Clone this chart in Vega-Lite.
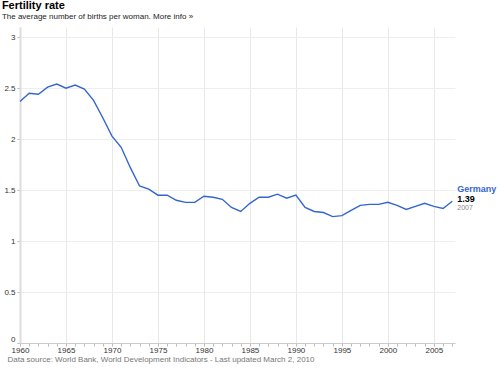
{
  "$schema": "https://vega.github.io/schema/vega-lite/v6.json",
  "autosize": "none",
  "width": 435,
  "height": 316,
  "padding": {"left": 20, "top": 27, "right": 45, "bottom": 26},
  "background": "white",
  "title": {
    "text": "Fertility rate",
    "subtitle": "The average number of births per woman. More info »",
    "anchor": "start",
    "dx": -2,
    "offset": 6,
    "font": "Liberation Sans",
    "fontSize": 11,
    "fontWeight": "bold",
    "color": "#000",
    "subtitleFont": "Liberation Sans",
    "subtitleFontSize": 8,
    "subtitleColor": "#222",
    "subtitlePadding": 2
  },
  "config": {
    "view": {"stroke": null},
    "font": "Liberation Sans"
  },
  "data": {
    "values": [
      {"year": 1960, "rate": 2.37}, {"year": 1961, "rate": 2.45}, {"year": 1962, "rate": 2.44},
      {"year": 1963, "rate": 2.51}, {"year": 1964, "rate": 2.54}, {"year": 1965, "rate": 2.5},
      {"year": 1966, "rate": 2.53}, {"year": 1967, "rate": 2.49}, {"year": 1968, "rate": 2.38},
      {"year": 1969, "rate": 2.21}, {"year": 1970, "rate": 2.03}, {"year": 1971, "rate": 1.92},
      {"year": 1972, "rate": 1.72}, {"year": 1973, "rate": 1.54}, {"year": 1974, "rate": 1.51},
      {"year": 1975, "rate": 1.45}, {"year": 1976, "rate": 1.45}, {"year": 1977, "rate": 1.4},
      {"year": 1978, "rate": 1.38}, {"year": 1979, "rate": 1.38}, {"year": 1980, "rate": 1.44},
      {"year": 1981, "rate": 1.43}, {"year": 1982, "rate": 1.41}, {"year": 1983, "rate": 1.33},
      {"year": 1984, "rate": 1.29}, {"year": 1985, "rate": 1.37}, {"year": 1986, "rate": 1.43},
      {"year": 1987, "rate": 1.43}, {"year": 1988, "rate": 1.46}, {"year": 1989, "rate": 1.42},
      {"year": 1990, "rate": 1.45}, {"year": 1991, "rate": 1.33}, {"year": 1992, "rate": 1.29},
      {"year": 1993, "rate": 1.28}, {"year": 1994, "rate": 1.24}, {"year": 1995, "rate": 1.25},
      {"year": 1996, "rate": 1.3}, {"year": 1997, "rate": 1.35}, {"year": 1998, "rate": 1.36},
      {"year": 1999, "rate": 1.36}, {"year": 2000, "rate": 1.38}, {"year": 2001, "rate": 1.35},
      {"year": 2002, "rate": 1.31}, {"year": 2003, "rate": 1.34}, {"year": 2004, "rate": 1.37},
      {"year": 2005, "rate": 1.34}, {"year": 2006, "rate": 1.32}, {"year": 2007, "rate": 1.39, "country": "Germany"}
    ]
  },
  "encoding": {
    "x": {
      "field": "year",
      "type": "quantitative",
      "scale": {"domain": [1960, 2007.3], "nice": false, "zero": false},
      "axis": {
        "values": [1960,1961,1962,1963,1964,1965,1966,1967,1968,1969,1970,1971,1972,1973,1974,1975,1976,1977,1978,1979,1980,1981,1982,1983,1984,1985,1986,1987,1988,1989,1990,1991,1992,1993,1994,1995,1996,1997,1998,1999,2000,2001,2002,2003,2004,2005,2006,2007],
        "labelExpr": "datum.value % 5 === 0 ? datum.value : ''",
        "format": "d",
        "grid": true,
        "gridColor": "#e8e8e8",
        "gridOpacity": {"condition": {"test": "datum.value % 5 === 0", "value": 1}, "value": 0},
        "tickSize": 3,
        "tickColor": "#bbb",
        "domainColor": "#ccc",
        "labelFontSize": 8,
        "labelColor": "#333",
        "labelPadding": 0,
        "labelFlush": false,
        "title": "Data source: World Bank, World Development Indicators - Last updated March 2, 2010",
        "titleAnchor": "start",
        "titleAlign": "left",
        "titleX": -13,
        "titleY": 12,
        "titleBaseline": "top",
        "titleFontSize": 8,
        "titleFontWeight": "normal",
        "titleColor": "#777"
      }
    },
    "y": {
      "field": "rate",
      "type": "quantitative",
      "scale": {"domain": [0, 3.1], "nice": false},
      "axis": {
        "values": [0, 0.5, 1, 1.5, 2, 2.5, 3],
        "format": "~g",
        "grid": true,
        "gridColor": "#eeeeee",
        "tickSize": 3,
        "tickColor": "#bbb",
        "domainColor": "#ddd",
        "domainWidth": 2,
        "labelFontSize": 8,
        "labelColor": "#333",
        "labelPadding": 2,
        "labelBaseline": {"condition": {"test": "datum.value === 0", "value": "bottom"}, "value": "middle"},
        "title": null
      }
    }
  },
  "layer": [
    {
      "mark": {"type": "line", "color": "#3366cc", "strokeWidth": 1.4}
    },
    {
      "transform": [{"filter": "datum.year === 2007"}],
      "mark": {"type": "text", "align": "left", "baseline": "middle", "dx": 5, "dy": -12, "fontSize": 9, "fontWeight": "bold", "color": "#3366cc"},
      "encoding": {"text": {"field": "country"}}
    },
    {
      "transform": [{"filter": "datum.year === 2007"}],
      "mark": {"type": "text", "align": "left", "baseline": "middle", "dx": 5, "dy": -2, "fontSize": 9, "fontWeight": "bold", "color": "#000"},
      "encoding": {"text": {"field": "rate", "format": ".2f"}}
    },
    {
      "transform": [{"filter": "datum.year === 2007"}],
      "mark": {"type": "text", "align": "left", "baseline": "middle", "dx": 5, "dy": 7, "fontSize": 7, "color": "#888"},
      "encoding": {"text": {"value": "2007"}}
    }
  ]
}
